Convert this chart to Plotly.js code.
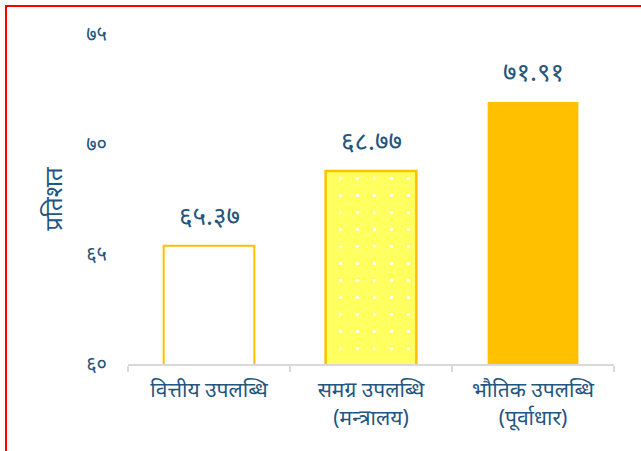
<!DOCTYPE html>
<html>
<head>
<meta charset="utf-8">
<script src="https://cdn.plot.ly/plotly-3.0.1.min.js"></script>
<style>
  html, body { margin: 0; padding: 0; overflow: hidden; background: #fff; }
  #chart { width: 641px; height: 451px; }
  #frame { position: absolute; left: 5px; top: 5px; width: 700px; height: 500px;
           border: 2px solid #ff0000; pointer-events: none; }
</style>
</head>
<body>
<div id="chart"></div>
<div id="frame"></div>
<script>
const categories = ['वित्तीय उपलब्धि', 'समग्र उपलब्धि<br>(मन्त्रालय)', 'भौतिक उपलब्धि<br>(पूर्वाधार)'];
const values = [65.37, 68.77, 71.91];
const yTickVals = [60, 65, 70, 75];
const yTickText = ['६०', '६५', '७०', '७५'];
const yTitle = 'प्रतिशत';

const fills = ['#ffffff', '#ffff60', '#ffc000'];
const lineColors = ['#ffc000', '#ffc000', '#ffc000'];
const lineWidths = [2, 2.5, 0];
const patterns = ['', '.', ''];

const devDigits = ['०','१','२','३','४','५','६','७','८','९'];
function toDev(s) { return String(s).replace(/[0-9]/g, d => devDigits[+d]); }

const blue = '#24557f';
const font = 'Noto Sans, sans-serif';

const traces = categories.map((c, i) => ({
  type: 'bar',
  x: [c],
  y: [values[i]],
  width: 0.56,
  marker: {
    color: fills[i],
    line: { color: lineColors[i], width: lineWidths[i] },
    pattern: patterns[i] ? {
      shape: patterns[i],
      bgcolor: fills[i],
      fgcolor: '#ffffff',
      fgopacity: 1,
      size: 17,
      solidity: 0.035,
      fillmode: 'overlay'
    } : undefined
  },
  hoverinfo: 'skip'
}));

const annotations = categories.map((c, i) => ({
  x: c, y: values[i], xref: 'x', yref: 'y',
  text: toDev(values[i].toFixed(2)),
  showarrow: false, yanchor: 'bottom', yshift: 11,
  font: { family: font, size: 26, color: blue }
}));

const layout = {
  width: 641, height: 451,
  margin: { l: 128, r: 27, t: 34, b: 87 },
  paper_bgcolor: '#ffffff', plot_bgcolor: '#ffffff',
  showlegend: false,
  barmode: 'overlay',
  xaxis: {
    type: 'category',
    categoryorder: 'array', categoryarray: categories,
    showline: true, linecolor: '#d9d9d9', linewidth: 2,
    ticks: 'outside', tickson: 'boundaries', ticklen: 6, tickwidth: 2, tickcolor: '#d9d9d9',
    showgrid: false, zeroline: false,
    tickfont: { family: font, size: 21, color: blue },
    ticklabelstandoff: 6
  },
  yaxis: {
    range: [60, 75], autorange: false,
    tickvals: yTickVals, ticktext: yTickText,
    showline: false, showgrid: false, zeroline: false, ticks: '',
    tickfont: { family: font, size: 20, color: blue },
    ticklabelstandoff: 20,
    title: { text: yTitle, font: { family: font, size: 24, color: blue }, standoff: 16 }
  },
  annotations: annotations
};

Plotly.newPlot('chart', traces, layout, { displayModeBar: false, staticPlot: true });
</script>
</body>
</html>
